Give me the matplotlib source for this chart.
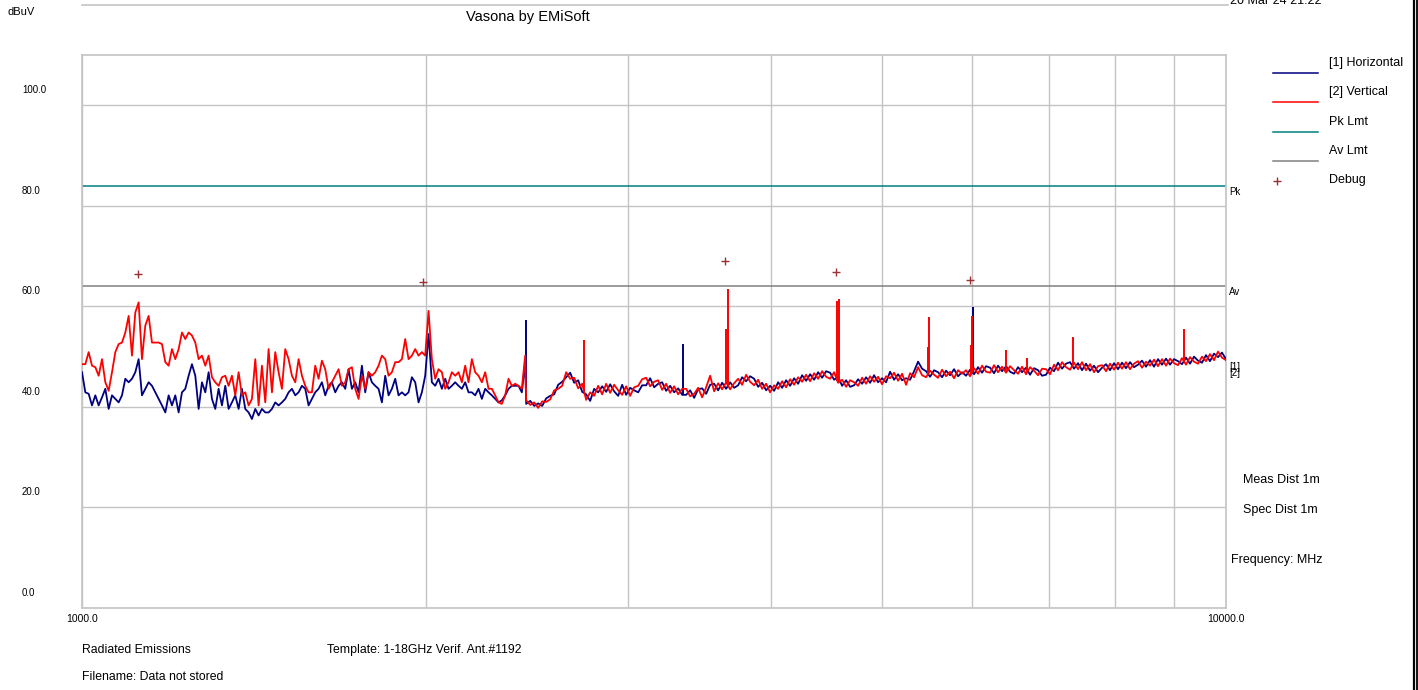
import numpy as np
import matplotlib
matplotlib.use("Agg")
import matplotlib.pyplot as plt
from matplotlib.lines import Line2D
from matplotlib.ticker import NullFormatter, FixedLocator
from matplotlib.transforms import blended_transform_factory, offset_copy

plt.rcParams["font.family"] = ["Liberation Sans", "DejaVu Sans"]

W, H = 1418, 690

# sweep points (MHz), log spaced like the analyser sweep
freq_low = np.geomspace(1000, 2440, 134)
freq_high = np.geomspace(2445, 10000, 176)

# dBuV
horiz_low = [
    46.9, 42.9, 42.6, 40.3, 42.3, 40.3, 41.9, 43.6, 39.6, 42.3,
    41.6, 40.9, 42.3, 45.6, 44.9, 45.6, 46.9, 49.5, 42.3, 43.6,
    44.9, 44.2, 42.9, 41.6, 40.3, 38.9, 42.3, 40.3, 42.3, 38.9,
    42.9, 43.6, 46.2, 48.5, 46.2, 39.6, 44.9, 42.9, 46.9, 41.6,
    39.6, 43.6, 40.3, 44.2, 39.6, 40.9, 42.3, 39.6, 43.6, 39.6,
    38.9, 37.6, 39.6, 38.3, 39.6, 38.9, 38.9, 39.6, 40.9, 40.3,
    40.9, 41.6, 42.9, 43.6, 42.3, 42.9, 44.2, 43.6, 40.3, 41.6,
    42.9, 43.6, 44.9, 42.3, 44.2, 44.9, 42.9, 44.2, 44.9, 43.6,
    47.5, 43.6, 44.9, 42.9, 48.2, 42.9, 46.9, 44.9, 44.2, 43.6,
    40.9, 46.2, 42.3, 43.6, 45.6, 42.3, 42.9, 42.3, 42.9, 45.9,
    44.9, 40.9, 42.9, 46.2, 54.5, 44.9, 44.2, 45.6, 43.6, 45.6,
    43.6, 44.2, 44.9, 44.2, 43.6, 44.9, 42.9,
    42.9, 42.3, 43.6, 41.6, 43.6, 42.9, 42.3, 41.6, 40.9, 41.3,
    42.3, 43.6, 44.2, 44.2, 44.2, 42.9, 48.9,
]
vert_low = [
    48.5, 48.5, 50.9, 48.2, 47.9, 46.2, 49.5, 44.9, 43.2, 46.9,
    50.9, 52.5, 52.8, 54.8, 58.1, 50.2, 58.8, 60.8, 49.5, 56.2,
    58.1, 52.8, 52.8, 52.8, 52.5, 48.9, 48.2, 51.5, 49.5, 51.5,
    54.8, 53.5, 54.8, 54.2, 52.8, 49.5, 50.2, 48.2, 50.2, 45.9,
    44.9, 44.2, 45.9, 46.2, 44.2, 46.2, 42.3, 46.9, 42.3, 42.9,
    40.3, 41.6, 49.5, 40.3, 48.2, 40.9, 51.5, 42.9, 50.9, 46.9,
    43.6, 51.5, 49.5, 46.2, 44.9, 49.5, 46.2, 44.2, 42.9, 42.9,
    48.2, 45.6, 49.2, 47.5, 43.6, 44.9, 46.2, 47.5, 44.2, 44.9,
    47.5, 47.9, 43.6, 41.6, 46.2, 43.6, 46.9, 46.2, 46.9, 48.2,
    50.2, 49.5, 46.2, 46.9, 48.9, 48.9, 49.5, 53.5, 49.5, 50.2,
    51.5, 50.2, 50.9, 50.2, 59.1, 49.5, 45.6, 47.5, 46.9, 43.6,
    44.9, 46.9, 46.2, 46.9, 44.9, 48.2, 44.9,
    49.5, 46.9, 46.2, 44.9, 46.9, 43.6, 43.6, 42.3, 40.9, 40.6,
    42.3, 45.6, 44.2, 44.6, 44.2, 43.6, 50.2,
]
horiz_high = [
    40.6, 41.2, 40.2, 40.7, 40.2, 41.7, 42.2, 42.5, 44.4, 45.0,
    45.9, 46.8, 44.8, 45.3, 43.0, 42.5, 41.2, 43.6, 42.9, 44.1,
    43.0, 44.5, 43.1, 42.2, 44.4, 42.4, 43.8, 43.3, 42.9, 44.3,
    44.3, 45.7, 43.9, 44.6, 44.9, 43.2, 44.2, 42.9, 43.7, 42.4,
    42.4, 43.3, 41.8, 43.5, 43.7, 42.6, 44.4, 44.6, 43.3, 44.8,
    43.6, 44.9, 43.8, 44.3, 45.9, 45.1, 46.1, 45.6, 44.0, 44.8,
    43.3, 44.2, 43.2, 44.9, 43.8, 45.3, 44.2, 45.7, 44.6, 46.3,
    45.2, 46.5, 45.4, 46.9, 45.8, 47.1, 46.8, 45.4, 46.0, 44.2,
    45.3, 44.0, 44.3, 45.5, 44.6, 45.9, 44.8, 46.3, 44.9, 45.7,
    44.9, 47.0, 45.4, 46.5, 45.3, 45.7, 45.4, 47.1, 49.0, 47.6,
    47.1, 46.0, 47.3, 46.9, 45.9, 47.2, 46.3, 47.5, 46.1, 46.9,
    46.2, 47.4, 46.5, 47.9, 46.8, 48.1, 47.8, 46.7, 48.2, 47.1,
    48.1, 47.0, 46.6, 47.9, 46.9, 47.8, 46.4, 47.7, 47.3, 46.2,
    46.4, 47.8, 47.1, 48.8, 47.6, 48.6, 48.9, 47.6, 48.7, 47.3,
    48.6, 47.2, 48.2, 46.9, 47.8, 48.5, 47.3, 48.7, 47.5, 48.8,
    47.7, 48.9, 47.9, 48.4, 49.2, 48.0, 49.3, 48.0, 49.5, 48.4,
    49.6, 48.4, 49.5, 49.1, 48.5, 49.8, 48.6, 50.0, 49.2, 48.8,
    50.3, 49.1, 50.6, 49.9, 50.8, 49.5,
]
vert_high = [
    41.3, 40.4, 40.9, 39.8, 41.1, 41.0, 41.5, 43.3, 43.6, 44.2,
    46.9, 45.6, 45.8, 43.7, 44.6, 41.4, 42.9, 42.2, 44.2, 42.5,
    44.6, 42.8, 44.4, 43.3, 42.4, 44.1, 42.2, 43.9, 44.2, 45.5,
    45.8, 44.1, 45.0, 45.3, 43.4, 44.6, 42.8, 44.1, 42.5, 43.6,
    43.6, 42.1, 42.6, 43.8, 41.9, 43.9, 46.2, 43.1, 44.7, 43.5,
    44.9, 43.5, 44.7, 45.6, 44.4, 46.4, 45.0, 44.3, 45.4, 43.6,
    44.6, 42.9, 44.3, 43.6, 45.1, 43.9, 45.5, 44.4, 45.9, 45.0,
    46.4, 45.1, 46.7, 45.6, 47.1, 46.0, 45.6, 46.9, 44.8, 45.4,
    44.0, 45.3, 44.9, 44.2, 45.8, 44.6, 46.1, 45.0, 46.0, 44.5,
    46.1, 45.7, 46.8, 45.2, 46.6, 44.4, 46.7, 45.9, 47.9, 46.3,
    45.9, 47.2, 46.4, 45.8, 47.4, 46.1, 47.0, 45.7, 47.3, 46.6,
    47.3, 46.1, 47.7, 46.6, 48.2, 47.0, 46.8, 48.3, 46.9, 48.0,
    46.8, 48.1, 47.3, 46.6, 48.0, 46.5, 47.9, 47.2, 46.3, 47.6,
    47.5, 46.5, 48.4, 47.3, 48.9, 47.9, 47.4, 48.8, 47.5, 48.9,
    47.3, 48.5, 46.9, 48.1, 48.3, 47.1, 48.6, 47.4, 48.8, 47.6,
    48.9, 47.5, 48.6, 49.1, 47.8, 49.0, 48.2, 49.4, 48.1, 49.5,
    48.2, 49.6, 48.7, 48.3, 49.7, 48.4, 49.9, 49.0, 48.6, 50.0,
    49.1, 50.5, 49.3, 51.0, 49.8, 49.3,
]

# narrow emissions
horiz_spike_freq = [2443, 3352, 6006]
horiz_spike_peak = [57.2, 52.6, 59.8]
vert_spike_freq = [2747, 3655, 3667, 4575, 4588, 5490, 5501, 5990, 6000, 6419, 6696, 7345, 9190]
vert_spike_peak = [53.4, 55.5, 63.4, 61.0, 61.4, 52.0, 57.8, 52.3, 58.1, 51.4, 49.8, 53.9, 55.4]

debug_freq = [1119, 1988, 3648, 4561, 5973]
debug_level = [66.5, 64.8, 69.0, 66.9, 65.3]

pk_limit = 84.0
av_limit = 64.0
y_ticks = [0, 20, 40, 60, 80, 100]

NAVY = "#000080"
RED = "#ff0000"
TEAL = "#008080"
GREY = "#808080"
GRID = "#c4c4c4"


def fx(x):
    return x / W


def fy(y):
    return 1 - y / H


fig = plt.figure(figsize=(W / 100, H / 100), dpi=100)
fig.patch.set_facecolor("white")
ax = fig.add_axes([fx(82), fy(608), (1226 - 82) / W, (608 - 55) / H])

freq = np.concatenate([freq_low, freq_high])
horiz = np.array(horiz_low + horiz_high)
vert = np.array(vert_low + vert_high)

ax.plot(freq, horiz, color=NAVY, lw=1.3, zorder=3)
hb = np.interp(np.log10(horiz_spike_freq), np.log10(freq), horiz)
ax.vlines(horiz_spike_freq, hb, horiz_spike_peak, color=NAVY, lw=1.4, zorder=3)
ax.plot(freq, vert, color=RED, lw=1.3, zorder=4)
vb = np.interp(np.log10(vert_spike_freq), np.log10(freq), vert)
ax.vlines(vert_spike_freq, vb, vert_spike_peak, color=RED, lw=1.4, zorder=4)
# horizontal peak at 6 GHz shows above the red
ax.vlines(horiz_spike_freq[2:], [58.0], horiz_spike_peak[2:], color=NAVY, lw=1.4, zorder=5)

ax.axhline(pk_limit, color=TEAL, lw=1.1, zorder=2)
ax.axhline(av_limit, color=GREY, lw=1.1, zorder=2)
ax.plot(debug_freq, debug_level, ls="none", marker="+", ms=6, mew=1.0, color="#993333", zorder=5)

ax.set_xscale("log")
ax.set_xlim(1000, 10000)
ax.set_ylim(0, 110)
ax.set_xticks([1000, 10000])
ax.set_xticklabels(["1000.0", "10000.0"], fontsize=7.5)
ax.xaxis.set_minor_locator(FixedLocator([2000, 3000, 4000, 5000, 6000, 7000, 8000, 9000]))
ax.xaxis.set_minor_formatter(NullFormatter())
ax.set_yticks(y_ticks)
ax.set_yticklabels([])
ax.tick_params(which="both", length=0)
ax.tick_params(axis="x", pad=4)
ax.grid(True, which="both", axis="x", color=GRID, lw=1.0)
ax.grid(True, which="major", axis="y", color=GRID, lw=1.0)
ax.set_axisbelow(True)
for s in ax.spines.values():
    s.set_color(GRID)
    s.set_linewidth(1.2)

# y labels sit above their grid lines
ytrans = offset_copy(blended_transform_factory(fig.transFigure, ax.transData), fig=fig, y=15, units="dots")
for v in y_ticks:
    ax.text(fx(22), v, f"{v:.1f}", transform=ytrans, fontsize=7, ha="left", va="center")

ax.annotate("Pk", xy=(1, pk_limit), xycoords=("axes fraction", "data"), xytext=(3, -6),
            textcoords="offset pixels", fontsize=7, va="center", ha="left", annotation_clip=False)
ax.annotate("Av", xy=(1, av_limit), xycoords=("axes fraction", "data"), xytext=(3, -6),
            textcoords="offset pixels", fontsize=7, va="center", ha="left", annotation_clip=False)
fig.text(fx(1229), fy(367), "[1]", fontsize=7, va="center")
fig.text(fx(1229), fy(373), "[2]", fontsize=7, va="center")

# legend
legend_items = [("[1] Horizontal", NAVY), ("[2] Vertical", RED), ("Pk Lmt", TEAL), ("Av Lmt", GREY)]
for i, (name, col) in enumerate(legend_items):
    ty = 63 + 29.3 * i
    fig.add_artist(Line2D([fx(1273), fx(1318)], [fy(ty + 10)] * 2, color=col, lw=1.1))
    fig.text(fx(1329), fy(ty), name, fontsize=9, va="center")
fig.add_artist(Line2D([fx(1277)], [fy(181)], ls="none", marker="+", ms=6, mew=1.0, color="#993333"))
fig.text(fx(1329), fy(180), "Debug", fontsize=9, va="center")

fig.text(fx(1243), fy(480), "Meas Dist 1m", fontsize=9, va="center")
fig.text(fx(1243), fy(510), "Spec Dist 1m", fontsize=9, va="center")
fig.text(fx(1231), fy(560), "Frequency: MHz", fontsize=9, va="center")

fig.text(fx(528), fy(17), "Vasona by EMiSoft", fontsize=10.5, ha="center", va="center")
fig.text(fx(8), fy(12), "dBuV", fontsize=8, va="center")
fig.text(fx(1230), fy(1), "20 Mar 24 21:22", fontsize=9, va="center")
fig.add_artist(Line2D([fx(82), fx(1228)], [fy(5)] * 2, color=GRID, lw=1.2))

fig.text(fx(82), fy(650), "Radiated Emissions", fontsize=8.8, va="center")
fig.text(fx(327), fy(650), "Template: 1-18GHz Verif. Ant.#1192", fontsize=8.8, va="center")
fig.text(fx(82), fy(677), "Filename: Data not stored", fontsize=8.8, va="center")

# window edge on the right
fig.add_artist(Line2D([fx(1413.5)] * 2, [0, 1], color="black", lw=1.6))
fig.add_artist(Line2D([fx(1417.2)] * 2, [0, 1], color="black", lw=1.3))

fig.savefig("out.png", dpi=100)
